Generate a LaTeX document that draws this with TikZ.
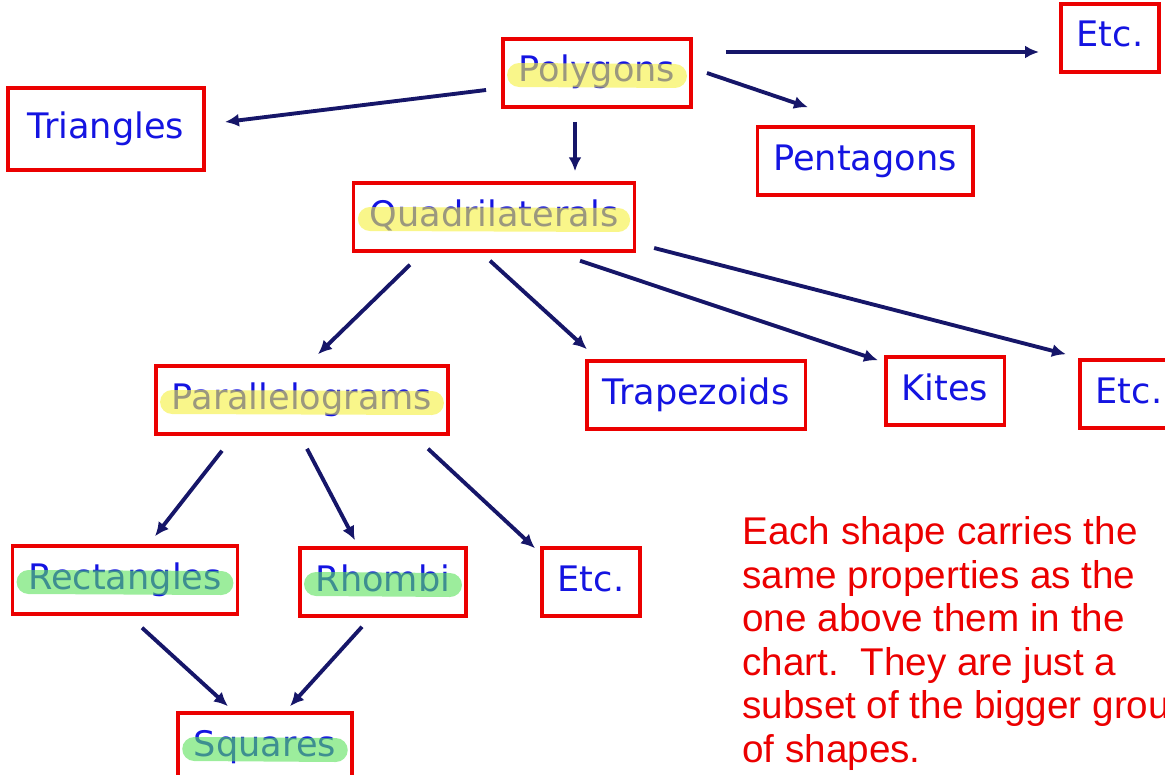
\documentclass[tikz,border=0pt]{standalone}
\usepackage{fontspec}
\setmainfont{DejaVu Sans}
\newfontfamily\notefont{Liberation Sans}
\usetikzlibrary{calc,arrows.meta}
\definecolor{boxred}{RGB}{235,0,0}
\definecolor{labblue}{RGB}{20,20,225}
\definecolor{arrnavy}{RGB}{22,22,105}
\definecolor{hlyellow}{RGB}{245,240,60}
\definecolor{hlgreen}{RGB}{90,225,90}
\begin{document}
\begin{tikzpicture}[x=0.02cm,y=-0.02cm,
    kind/.style={draw=boxred,line width=2pt,text=labblue,inner xsep=0.32cm,
      minimum height=1.36cm,text height=0.52cm,text depth=0.16cm,
      font=\fontsize{20}{24}\selectfont},
    arr/.style={draw=arrnavy,line width=2.2pt,-{Latex[length=0.28cm,width=0.26cm]}},
    hl/.style={line width=0.48cm,line cap=round,opacity=0.6},
    note/.style={text=boxred,align=left,inner sep=0pt,
      font=\notefont\fontsize{22}{24.75}\selectfont}]
  \useasboundingbox (0,0) rectangle (1165,774);
  \clip (0,0) rectangle (1165,774);
  % ---- the boxes ----
  \node[kind] (poly) at (597,73)  {Polygons};
  \node[kind,minimum height=1.64cm,inner xsep=0.4cm] (tri) at (106,129) {Triangles};
  \node[kind] (etcA) at (1110,38) {Etc.};
  \node[kind] (pent) at (865,161) {Pentagons};
  \node[kind] (quad) at (494,217) {Quadrilaterals};
  \node[kind] (para) at (302,400) {Parallelograms};
  \node[kind] (trap) at (696,395) {Trapezoids};
  \node[kind] (kite) at (945,391) {Kites};
  \node[kind] (etcB) at (1129,394) {Etc.};
  \node[kind] (rect) at (125,580) {Rectangles};
  \node[kind] (rhom) at (383,582) {Rhombi};
  \node[kind] (etcC) at (591,582) {Etc.};
  \node[kind] (sq)   at (265,747) {Squares};
  % ---- highlighter strokes ----
  \foreach \n/\c in {poly/hlyellow,quad/hlyellow,para/hlyellow,rect/hlgreen,rhom/hlgreen,sq/hlgreen}
    \draw[hl,\c] ($(\n.base west)+(18,-7)$) -- ($(\n.base east)+(-18,-6)$);
  % ---- arrows ----
  \draw[arr] ($(poly.west)+(-15,17)$) -- ($(tri.east)+(19,-7)$);
  \draw[arr] ($(poly.south)+(-22,13)$) -- ($(quad.north)+(81,-10)$);
  \draw[arr] ($(poly.east)+(33,-21)$) -- ($(etcA.west)+(-20,14)$);
  \draw[arr] ($(poly.east)+(14,0)$) -- ($(pent.north)+(-57,-18)$);
  \draw[arr] ($(quad.south)+(-84,12)$) -- ($(para.north)+(16,-10)$);
  \draw[arr] ($(quad.south)+(-4,8)$) -- ($(trap.north west)+(2,-10)$);
  \draw[arr] ($(quad.south)+(86,8)$) -- ($(kite.north west)+(-6,5)$);
  \draw[arr] ($(quad.east)+(18,31)$) -- ($(etcB.north west)+(-12,-4)$);
  \draw[arr] ($(para.south)+(-80,15)$) -- ($(rect.north)+(30,-8)$);
  \draw[arr] ($(para.south)+(5,13)$) -- ($(rhom.north)+(-28,-6)$);
  \draw[arr] ($(para.south)+(126,13)$) -- ($(etcC.north west)+(-5,2)$);
  \draw[arr] ($(rect.south)+(17,12)$) -- ($(sq.north)+(-37,-5)$);
  \draw[arr] ($(rhom.south)+(-21,9)$) -- ($(sq.north)+(25,-5)$);
  % ---- the remark ----
  \node[note,anchor=base west] (remark) at (742,762)
    {Each shape carries the\\same properties as the\\one above them in the\\chart.\ \ They are just a\\subset of the bigger group\\of shapes.};
\end{tikzpicture}
\end{document}
